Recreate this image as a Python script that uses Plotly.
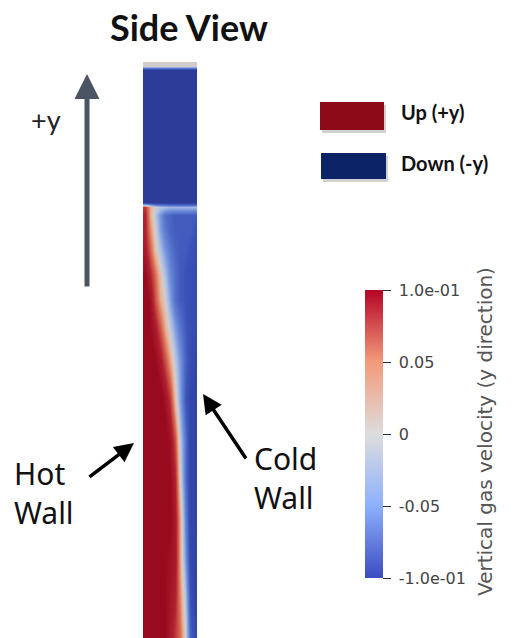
import plotly.graph_objects as go

W, H = 527, 638

# ---- data: vertical gas velocity field (side view of the column) ----
# sample positions across the column (fraction of width, hot wall -> cold wall)
x_pos = [0.045, 0.136, 0.227, 0.318, 0.409, 0.5, 0.591, 0.682, 0.773, 0.864, 0.955]
# sample heights (fraction of column height, top -> bottom)
y_pos = [0.998, 0.993, 0.986, 0.757, 0.748, 0.734, 0.708, 0.674, 0.630, 0.587,
         0.535, 0.483, 0.413, 0.344, 0.274, 0.205, 0.135, 0.066, 0.003]
# velocity values (m/s), rows top -> bottom
v_rows = [
    [0.0, 0.0, 0.0, 0.0, 0.0, 0.0, 0.0, 0.0, 0.0, 0.0, 0.0],
    [0.0, 0.0, 0.0, 0.0, 0.0, 0.0, 0.0, 0.0, 0.0, 0.0, 0.0],
    [-0.1, -0.1, -0.1, -0.1, -0.1, -0.1, -0.1, -0.1, -0.1, -0.1, -0.1],
    [-0.1, -0.1, -0.1, -0.1, -0.1, -0.1, -0.1, -0.1, -0.1, -0.1, -0.1],
    [0.06, 0.02, 0.0, -0.01, -0.015, -0.02, -0.02, -0.02, -0.02, -0.02, -0.02],
    [0.07, 0.02, -0.01, -0.035, -0.055, -0.06, -0.065, -0.065, -0.065, -0.065, -0.065],
    [0.07, 0.03, 0.0, -0.03, -0.05, -0.06, -0.065, -0.065, -0.065, -0.065, -0.07],
    [0.08, 0.045, 0.01, -0.015, -0.035, -0.05, -0.06, -0.065, -0.065, -0.07, -0.075],
    [0.1, 0.07, 0.04, 0.01, -0.015, -0.04, -0.055, -0.065, -0.07, -0.075, -0.08],
    [0.12, 0.09, 0.05, 0.02, 0.0, -0.03, -0.055, -0.065, -0.07, -0.075, -0.08],
    [0.12, 0.1, 0.08, 0.05, 0.02, -0.005, -0.03, -0.05, -0.065, -0.075, -0.08],
    [0.12, 0.11, 0.1, 0.08, 0.05, 0.02, -0.01, -0.035, -0.06, -0.075, -0.085],
    [0.12, 0.12, 0.12, 0.11, 0.09, 0.06, 0.01, -0.03, -0.065, -0.085, -0.09],
    [0.12, 0.12, 0.12, 0.12, 0.11, 0.09, 0.05, -0.01, -0.05, -0.085, -0.09],
    [0.12, 0.12, 0.12, 0.12, 0.12, 0.1, 0.07, 0.0, -0.05, -0.085, -0.09],
    [0.12, 0.12, 0.12, 0.12, 0.12, 0.1, 0.08, 0.02, -0.04, -0.085, -0.09],
    [0.12, 0.12, 0.12, 0.12, 0.1, 0.09, 0.08, 0.02, -0.03, -0.08, -0.09],
    [0.12, 0.12, 0.12, 0.11, 0.1, 0.085, 0.07, 0.03, -0.01, -0.07, -0.09],
    [0.12, 0.12, 0.12, 0.11, 0.1, 0.08, 0.06, 0.04, 0.0, -0.06, -0.08],
]
v_min, v_max = -0.1, 0.1
cbar_ticks = [-0.1, -0.05, 0, 0.05, 0.1]
cbar_ticktext = ["-1.0e-01", "-0.05", "0", "0.05", "1.0e-01"]
cbar_title = "Vertical gas velocity (y direction)"
legend_labels = ["Up (+y)", "Down (-y)"]
legend_colors = ["#8c0a18", "#0c2466"]

# heatmap rows must go bottom -> top
y_sorted = y_pos[::-1]
z_sorted = v_rows[::-1]

field_scale = [
    [0.0, "#2c3c98"], [0.15, "#3a52b8"], [0.3, "#6a8ad8"], [0.42, "#a9bde6"],
    [0.5, "#d2cdca"], [0.58, "#e8b39a"], [0.7, "#d86a50"], [0.85, "#b02030"],
    [1.0, "#980a1e"],
]
bar_scale = [
    [0.0, "#3b4cc0"], [0.25, "#8db0fe"], [0.5, "#dddddd"], [0.75, "#f49a7b"],
    [1.0, "#b40426"],
]


def px(x):
    return x / W


def py(y):
    return 1 - y / H


fig = go.Figure()
fig.add_trace(go.Heatmap(
    x=x_pos, y=y_sorted, z=z_sorted, zmin=v_min, zmax=v_max,
    colorscale=field_scale, zsmooth="best", showscale=False, hoverinfo="skip",
))
fig.add_trace(go.Scatter(
    x=[None], y=[None], mode="markers", hoverinfo="skip", showlegend=False,
    marker=dict(
        color=[0], cmin=v_min, cmax=v_max, colorscale=bar_scale, showscale=True,
        colorbar=dict(
            x=px(365), xanchor="left", y=py(434), yanchor="middle",
            thickness=18, thicknessmode="pixels", len=288, lenmode="pixels",
            xpad=0, ypad=0, outlinewidth=0,
            tickvals=cbar_ticks, ticktext=[" " + t for t in cbar_ticktext], ticks="outside",
            ticklen=8, tickwidth=1.3, tickcolor="#333",
            tickfont=dict(family="DejaVu Sans", size=16, color="#444"),
        ),
    ),
))

P = dict(xref="paper", yref="paper")
annotations = [
    dict(text="<b>Side View</b>", x=px(189), y=py(27), xanchor="center", yanchor="middle",
         font=dict(family="Lato", size=36, color="#111"), showarrow=False, **P),
    dict(text="+y", x=px(46), y=py(120), xanchor="center", yanchor="middle",
         font=dict(family="Lato", size=27, color="#222"), showarrow=False, **P),
    dict(text="<b>%s</b>" % legend_labels[0], x=px(399), y=py(112), xanchor="left", yanchor="middle",
         font=dict(family="Lato", size=20, color="#111"), showarrow=False, **P),
    dict(text="<b>%s</b>" % legend_labels[1], x=px(399), y=py(163), xanchor="left", yanchor="middle",
         font=dict(family="Lato", size=20, color="#111"), showarrow=False, **P),
    dict(text="Hot<br>Wall", x=px(12), y=py(493), xanchor="left", yanchor="middle", align="left",
         font=dict(family="Noto Sans", size=30, color="#111"), showarrow=False, **P),
    dict(text="Cold<br>Wall", x=px(252), y=py(478), xanchor="left", yanchor="middle", align="left",
         font=dict(family="Noto Sans", size=30, color="#111"), showarrow=False, **P),
    dict(text=cbar_title, x=px(485), y=py(432), xanchor="center", yanchor="middle",
         textangle=-90, font=dict(family="DejaVu Sans", size=20, color="#555"), showarrow=False, **P),
    # +y arrow
    dict(text="", x=px(87), y=py(74), ax=0, ay=214, showarrow=True, arrowhead=2,
         arrowsize=1.0, arrowwidth=5, arrowcolor="#4a5462", **P),
    # Hot wall arrow
    dict(text="", x=px(134), y=py(443), ax=-46, ay=35, showarrow=True, arrowhead=2,
         arrowsize=1.1, arrowwidth=3.5, arrowcolor="#000", **P),
    # Cold wall arrow
    dict(text="", x=px(203), y=py(394), ax=44, ay=66, showarrow=True, arrowhead=2,
         arrowsize=1.1, arrowwidth=3.5, arrowcolor="#000", **P),
]

shapes = []
for (x0, y0, x1, y1), col in zip([(320, 102, 384, 130), (321, 153, 386, 179)], legend_colors):
    shapes.append(dict(type="rect", xref="paper", yref="paper",
                       x0=px(x0 + 2), x1=px(x1 + 2), y0=py(y0 + 3), y1=py(y1 + 3),
                       fillcolor="rgba(0,0,0,0.18)", line=dict(width=0), layer="below"))
    shapes.append(dict(type="rect", xref="paper", yref="paper",
                       x0=px(x0), x1=px(x1), y0=py(y0), y1=py(y1),
                       fillcolor=col, line=dict(width=0)))

fig.update_layout(
    width=W, height=H, margin=dict(l=0, r=0, t=0, b=0),
    paper_bgcolor="white", plot_bgcolor="white",
    xaxis=dict(domain=[px(143), px(197)], range=[0, 1], visible=False, fixedrange=True),
    yaxis=dict(domain=[0, 576 / H], range=[0, 1], visible=False, fixedrange=True),
    annotations=annotations, shapes=shapes, showlegend=False,
)

fig.write_html("out.html")
